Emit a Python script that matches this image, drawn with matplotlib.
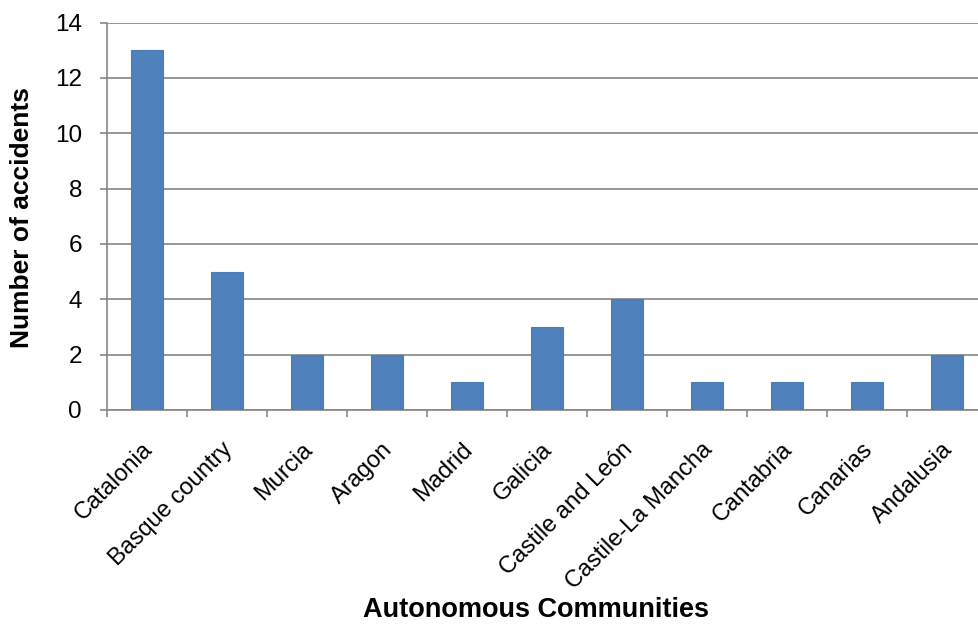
import matplotlib
matplotlib.use("Agg")
import matplotlib.pyplot as plt
import matplotlib.transforms as mtransforms
import numpy as np

communities = ["Catalonia", "Basque country", "Murcia", "Aragon", "Madrid", "Galicia",
               "Castile and León", "Castile-La Mancha", "Cantabria", "Canarias", "Andalusia"]
accidents = [13, 5, 2, 2, 1, 3, 4, 1, 1, 1, 2]
y_ticks = [0, 2, 4, 6, 8, 10, 12, 14]

plt.rcParams["font.family"] = ["Liberation Sans", "DejaVu Sans"]

W, H = 979, 624
fig = plt.figure(figsize=(W / 100, H / 100), dpi=100)
left, right, top, bottom = 107, 987, 22.5, 410
ax = fig.add_axes([left / W, 1 - bottom / H, (right - left) / W, (bottom - top) / H])

x = np.arange(len(communities))
ax.bar(x, accidents, width=0.4, color="#4F81BD", edgecolor="#4A7EBB", linewidth=0.8, zorder=3)

ax.set_xlim(-0.5, len(communities) - 0.5)
ax.set_ylim(0, 14)
ax.set_yticks(y_ticks)
ax.tick_params(axis="y", length=5, width=1.2, color="#868686", labelsize=17.5, pad=13)
ax.yaxis.grid(True, color="#868686", linewidth=1.2, zorder=0)
ax.set_axisbelow(True)

ax.set_xticks(x)
ax.set_xticklabels(communities, rotation=45, ha="right", va="center",
                   rotation_mode="anchor", fontsize=17)
ax.tick_params(axis="x", length=0, pad=26)
shift = mtransforms.ScaledTranslation(2 / 100, 0, fig.dpi_scale_trans)
for lbl in ax.get_xticklabels():
    lbl.set_transform(lbl.get_transform() + shift)
ax.set_xticks(np.arange(len(communities) + 1) - 0.5, minor=True)
ax.tick_params(axis="x", which="minor", length=5, width=1.2, color="#868686")

for side in ["top", "right"]:
    ax.spines[side].set_visible(False)
for side in ["left", "bottom"]:
    ax.spines[side].set_color("#868686")
    ax.spines[side].set_linewidth(1.2)

fig.text(22 / W, 1 - 217 / H, "Number of accidents", fontsize=19, fontweight="bold",
         rotation=90, ha="center", va="center")
fig.text(536 / W, 1 - 610 / H, "Autonomous Communities", fontsize=19.5, fontweight="bold",
         ha="center", va="center")

fig.savefig("out.png", dpi=100)
